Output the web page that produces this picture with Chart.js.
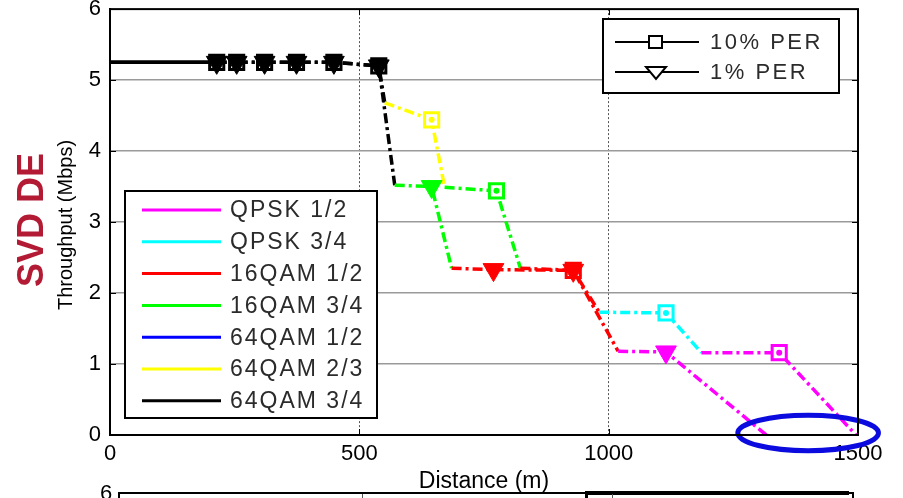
<!DOCTYPE html>
<html lang="en">
<head>
  <meta charset="UTF-8">
  <title>SVD DE throughput vs distance</title>
  <script src="https://cdn.jsdelivr.net/npm/chart.js"></script>
  <style>
    html, body {
      margin: 0;
      padding: 0;
      background: #fff;
      overflow: hidden;
      font-family: "Liberation Sans", Arial, sans-serif;
    }
    #wrap {
      position: relative;
      width: 903px;
      height: 498px;
    }
    #chart { position: absolute; left: 0; top: 0; }
    /* top edge of the next subplot peeking in at the bottom */
    #nextAxes {
      position: absolute;
      left: 118px; top: 492px;
      width: 732px; height: 10px;
      border-top: 2px solid #000;
      border-left: 2px solid #000;
      border-right: 2px solid #000;
    }
    #nextLegend {
      position: absolute;
      left: 585px; top: 491px;
      width: 261px; height: 10px;
      border-top: 4px solid #000;
      border-left: 3px solid #000;
    }
    .nextTick {
      position: absolute;
      top: 494px;
      width: 1px; height: 5px;
      background: #555;
    }
    #nextSix {
      position: absolute;
      left: 100px; top: 482px;
      font-size: 22px;
      line-height: 22px;
      color: #000;
    }
  </style>
</head>
<body>
  <div id="wrap">
    <canvas id="chart" width="903" height="498"></canvas>
    <div id="nextAxes"></div>
    <div id="nextLegend"></div>
    <div class="nextTick" style="left:362px"></div>
    <div class="nextTick" style="left:612px"></div>
    <div id="nextSix">6</div>
  </div>

  <script>
    // modulation schemes and their plot colours
    const mods = ['QPSK 1/2', 'QPSK 3/4', '16QAM 1/2', '16QAM 3/4', '64QAM 1/2', '64QAM 2/3', '64QAM 3/4'];
    const modColors = ['#ff00ff', '#00ffff', '#ff0000', '#00ff00', '#0000ff', '#ffff00', '#000000'];

    // 10% PER curve: distance (m), throughput (Mbps)
    const per10Dist = [0, 214, 254, 310, 374, 449, 539, 551, 645, 671, 775, 823, 929, 981, 1115, 1186, 1342, 1496];
    const per10Thr  = [5.25, 5.25, 5.25, 5.25, 5.25, 5.25, 5.2, 4.68, 4.44, 3.49, 3.44, 2.35, 2.32, 1.73, 1.72, 1.16, 1.16, 0];
    // modulation used on each segment (point i -> i+1)
    const per10SegMod = [6, 6, 6, 6, 6, 6, 6, 5, 5, 3, 3, 2, 2, 1, 1, 0, 0];
    // modulation at measured points (null = no marker)
    const per10Mark = [null, 6, 6, 6, 6, 6, 6, null, 5, null, 3, null, 2, null, 1, null, 0, null];

    // 1% PER curve
    const per1Dist = [0, 214, 254, 310, 374, 449, 539, 571, 645, 685, 769, 929, 1019, 1115, 1316];
    const per1Thr  = [5.25, 5.25, 5.25, 5.25, 5.25, 5.25, 5.2, 3.52, 3.5, 2.35, 2.33, 2.32, 1.18, 1.17, 0];
    const per1SegMod = [6, 6, 6, 6, 6, 6, 6, 3, 3, 2, 2, 2, 0, 0];
    const per1Mark = [null, 6, 6, 6, 6, 6, 6, null, 3, null, 2, 2, null, 0, null];

    // axis ticks
    const xTicks = [0, 500, 1000, 1500];
    const yTicks = [0, 1, 2, 3, 4, 5, 6];

    // highlighted region around the cut-off distances
    const ringCenter = [1400, 0];
    const ringRadius = [141, 0.25];

    const dashDot = [10, 4, 3, 4];
    const FONT = '"Liberation Sans", Arial, sans-serif';

    function toPoints(xs, ys) {
      return xs.map((x, i) => ({ x: x, y: ys[i] }));
    }
    function markerPoints(xs, ys, marks) {
      const pts = [];
      marks.forEach((m, i) => { if (m !== null) pts.push({ x: xs[i], y: ys[i], m: m }); });
      return pts;
    }

    const mk10 = markerPoints(per10Dist, per10Thr, per10Mark);
    const mk1 = markerPoints(per1Dist, per1Thr, per1Mark);

    function curve(xs, ys, segMod) {
      return {
        data: toPoints(xs, ys),
        order: 10,
        showLine: true,
        borderWidth: 3.5,
        pointRadius: 0,
        borderColor: '#000',
        segment: {
          borderColor: ctx => modColors[segMod[ctx.p0DataIndex]],
          borderDash: ctx => ctx.p0DataIndex === 0 ? [] : dashDot
        }
      };
    }

    // legends, side labels, inward ticks and the highlight ring
    const decorations = {
      id: 'decorations',
      afterDatasetsDraw(chart) {
        const ctx = chart.ctx;
        const area = chart.chartArea;
        const xs = chart.scales.x, ys = chart.scales.y;

        // ring
        const cx = xs.getPixelForValue(ringCenter[0]);
        const cy = ys.getPixelForValue(ringCenter[1]);
        const rx = Math.abs(xs.getPixelForValue(ringCenter[0] + ringRadius[0]) - cx);
        const ry = Math.abs(ys.getPixelForValue(ringCenter[1] + ringRadius[1]) - cy);
        ctx.save();
        ctx.strokeStyle = '#0b0be0';
        ctx.lineWidth = 5;
        ctx.beginPath();
        ctx.ellipse(cx, cy - 2, rx, ry, 0, 0, Math.PI * 2);
        ctx.stroke();
        ctx.restore();

        // axes box with matlab-style inward ticks
        ctx.save();
        ctx.strokeStyle = '#000';
        ctx.lineWidth = 2;
        ctx.strokeRect(area.left, area.top, area.right - area.left, area.bottom - area.top);
        ctx.lineWidth = 1;
        ctx.beginPath();
        xTicks.forEach(v => {
          const px = Math.round(xs.getPixelForValue(v)) + 0.5;
          ctx.moveTo(px, area.bottom); ctx.lineTo(px, area.bottom - 6);
          ctx.moveTo(px, area.top); ctx.lineTo(px, area.top + 6);
        });
        yTicks.forEach(v => {
          const py = Math.round(ys.getPixelForValue(v)) + 0.5;
          ctx.moveTo(area.left, py); ctx.lineTo(area.left + 6, py);
          ctx.moveTo(area.right, py); ctx.lineTo(area.right - 6, py);
        });
        ctx.stroke();
        ctx.restore();

        // modulation legend
        ctx.save();
        ctx.fillStyle = '#fff';
        ctx.fillRect(125, 191, 252, 227);
        ctx.strokeStyle = '#000';
        ctx.lineWidth = 2;
        ctx.strokeRect(125, 191, 252, 227);
        ctx.font = '23px ' + FONT;
        ctx.textBaseline = 'middle';
        if ('letterSpacing' in ctx) ctx.letterSpacing = '2px';
        mods.forEach((name, i) => {
          const y = 210 + i * 31.8;
          ctx.strokeStyle = modColors[i];
          ctx.lineWidth = 3;
          ctx.beginPath();
          ctx.moveTo(142, y);
          ctx.lineTo(221, y);
          ctx.stroke();
          ctx.fillStyle = '#2b2b2b';
          ctx.fillText(name, 230, y + 1);
        });
        ctx.restore();

        // PER legend
        ctx.save();
        ctx.fillStyle = '#fff';
        ctx.fillRect(603, 19, 236, 74);
        ctx.strokeStyle = '#000';
        ctx.lineWidth = 2;
        ctx.strokeRect(603, 19, 236, 74);
        ctx.lineWidth = 2;
        [42, 72].forEach(y => {
          ctx.beginPath();
          ctx.moveTo(615, y);
          ctx.lineTo(699, y);
          ctx.stroke();
        });
        ctx.fillStyle = '#fff';
        ctx.fillRect(649, 36, 13, 12);
        ctx.strokeRect(649, 36, 13, 12);
        ctx.beginPath();
        ctx.moveTo(646, 67);
        ctx.lineTo(666, 67);
        ctx.lineTo(656, 79);
        ctx.closePath();
        ctx.fill();
        ctx.stroke();
        ctx.font = '22px ' + FONT;
        ctx.textBaseline = 'middle';
        if ('letterSpacing' in ctx) ctx.letterSpacing = '2.5px';
        ctx.fillStyle = '#2b2b2b';
        ctx.fillText('10% PER', 710, 43);
        ctx.fillText('1% PER', 710, 73);
        ctx.restore();

        // side labels
        ctx.save();
        ctx.translate(33, 220);
        ctx.rotate(-Math.PI / 2);
        ctx.textAlign = 'center';
        ctx.textBaseline = 'middle';
        ctx.font = 'bold 36px ' + FONT;
        ctx.fillStyle = '#b31b34';
        ctx.fillText('SVD DE', 0, 0);
        ctx.restore();

        ctx.save();
        ctx.translate(66, 225);
        ctx.rotate(-Math.PI / 2);
        ctx.textAlign = 'center';
        ctx.textBaseline = 'middle';
        ctx.font = '20px ' + FONT;
        ctx.fillStyle = '#000';
        ctx.fillText('Throughput (Mbps)', 0, 0);
        ctx.restore();
      }
    };

    new Chart(document.getElementById('chart'), {
      type: 'scatter',
      data: {
        datasets: [
          curve(per10Dist, per10Thr, per10SegMod),
          curve(per1Dist, per1Thr, per1SegMod),
          {
            // 10% PER markers: open squares
            data: mk10,
            order: 4,
            pointStyle: 'rect',
            pointRadius: 10,
            pointBorderWidth: 3,
            pointBorderColor: mk10.map(p => modColors[p.m]),
            pointBackgroundColor: '#fff'
          },
          {
            data: mk10,
            order: 3,
            pointStyle: 'circle',
            pointRadius: 3,
            pointBorderWidth: 0,
            pointBackgroundColor: mk10.map(p => modColors[p.m])
          },
          {
            // 1% PER markers: filled down triangles
            data: mk1,
            order: 2,
            pointStyle: 'triangle',
            rotation: 180,
            pointRadius: 12,
            pointBorderWidth: 1,
            pointBorderColor: mk1.map(p => modColors[p.m]),
            pointBackgroundColor: mk1.map(p => modColors[p.m])
          }
        ]
      },
      options: {
        responsive: false,
        animation: false,
        layout: { autoPadding: false, padding: { left: 0, top: 0, right: 45, bottom: 0 } },
        plugins: {
          legend: { display: false },
          tooltip: { enabled: false }
        },
        scales: {
          x: {
            type: 'linear',
            min: 0,
            max: 1500,
            afterBuildTicks: s => { s.ticks = xTicks.map(v => ({ value: v })); },
            afterFit: s => { s.height = 63; s.paddingLeft = 0; s.paddingRight = 0; },
            ticks: {
              color: '#000',
              padding: 6,
              maxRotation: 0,
              font: { family: FONT, size: 22 },
              callback: v => String(v)
            },
            grid: {
              color: ctx => (ctx.tick && (ctx.tick.value === 0 || ctx.tick.value === 1500)) ? 'rgba(0,0,0,0)' : '#555',
              lineWidth: 1,
              drawTicks: false
            },
            border: { display: true, color: '#000', width: 2, dash: [2, 2] },
            title: {
              display: true,
              text: 'Distance (m)',
              color: '#000',
              font: { family: FONT, size: 23 },
              padding: { top: 0, bottom: 3 }
            }
          },
          y: {
            min: 0,
            max: 6,
            afterBuildTicks: s => { s.ticks = yTicks.map(v => ({ value: v })); },
            afterFit: s => { s.width = 110; },
            ticks: {
              color: '#000',
              padding: 9,
              font: { family: FONT, size: 22, lineHeight: 0.01 }
            },
            grid: {
              color: ctx => (ctx.tick && (ctx.tick.value === 0 || ctx.tick.value === 6)) ? 'rgba(0,0,0,0)' : '#9a9a9a',
              lineWidth: 1.5,
              drawTicks: false
            },
            border: { display: true, color: '#000', width: 2 }
          }
        }
      },
      plugins: [decorations]
    });
  </script>
</body>
</html>
